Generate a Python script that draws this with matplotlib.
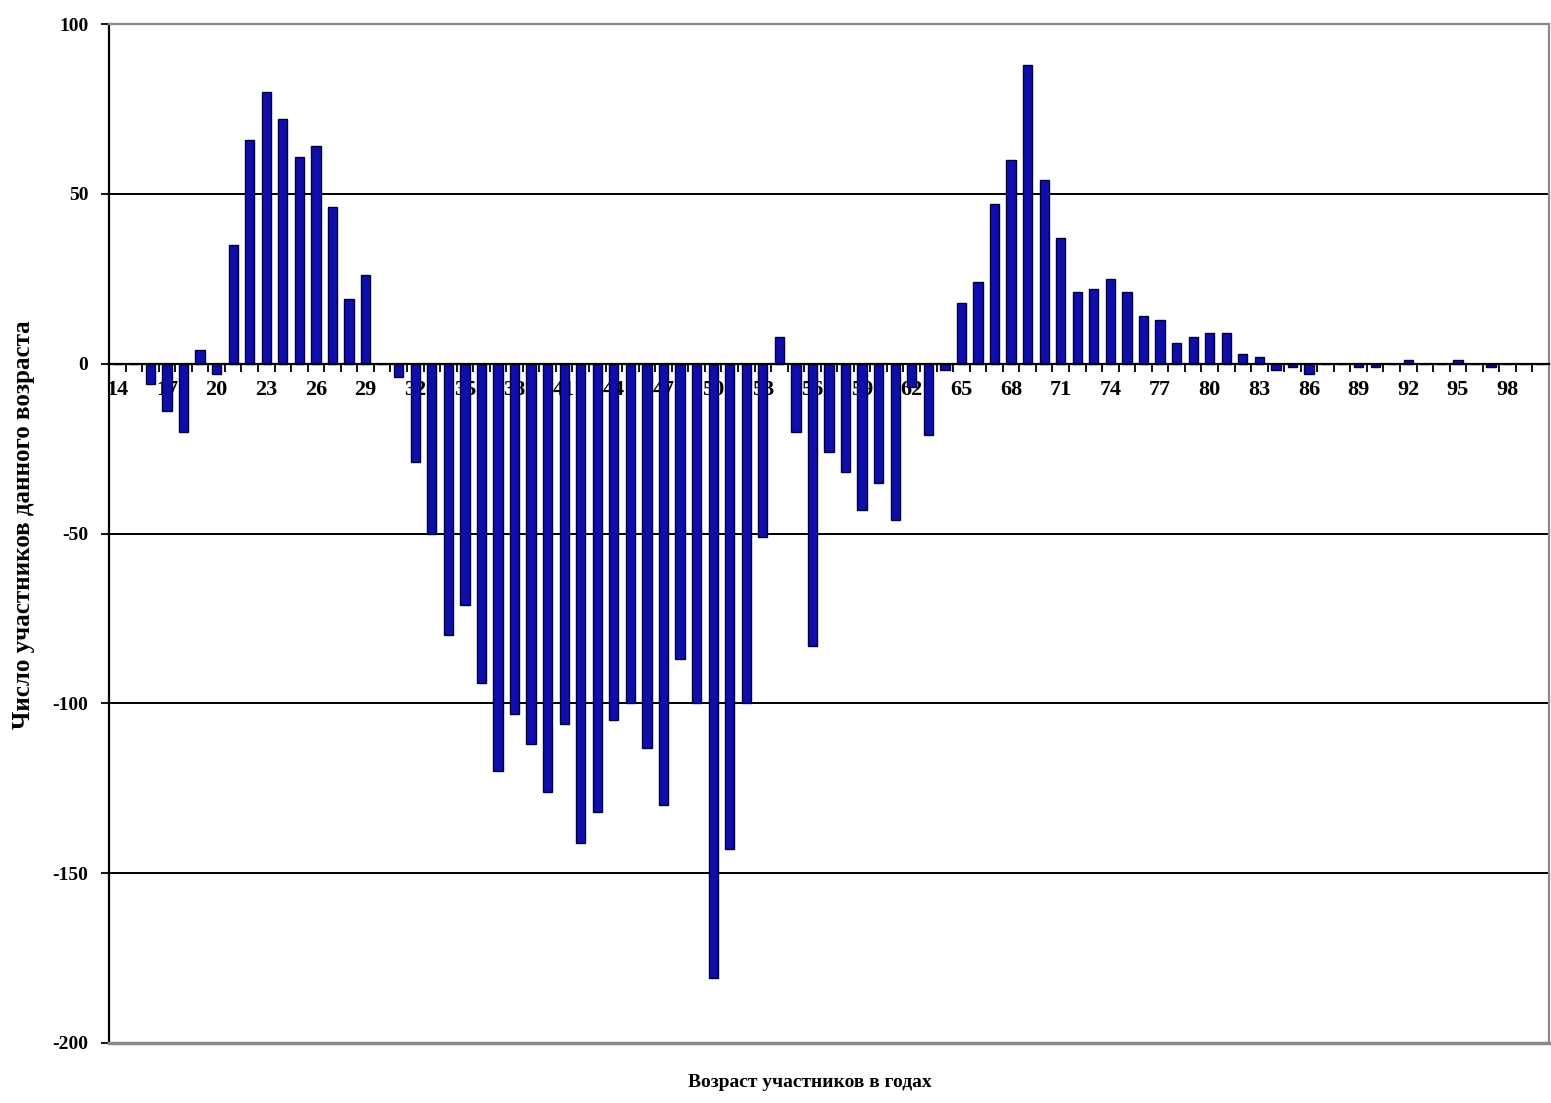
import numpy as np
import matplotlib
matplotlib.use("Agg")
import matplotlib.pyplot as plt

# возраст участников (лет) и число участников данного возраста
ages = list(range(14, 101))
counts = [0, 0, -6, -14, -20, 4, -3, 35, 66, 80,
          72, 61, 64, 46, 19, 26, 0, -4, -29, -50,
          -80, -71, -94, -120, -103, -112, -126, -106, -141, -132,
          -105, -100, -113, -130, -87, -100, -181, -143, -100, -51,
          8, -20, -83, -26, -32, -43, -35, -46, -7, -21,
          -2, 18, 24, 47, 60, 88, 54, 37, 21, 22,
          25, 21, 14, 13, 6, 8, 9, 9, 3, 2,
          -2, -1, -3, 0, 0, -1, -1, 0, 1, 0,
          0, 1, 0, -1, 0, 0, 0]
y_ticks = [100, 50, 0, -50, -100, -150, -200]
x_label = "Возраст участников в годах"
y_label = "Число участников данного возраста"

plt.rcParams['font.family'] = ['Liberation Serif', 'DejaVu Serif']
plt.rcParams['font.weight'] = 'bold'

fig = plt.figure(figsize=(15.51, 11.03), dpi=100, facecolor="w")
ax = fig.add_axes([0.0703, 0.0544, 0.9284, 0.9238])

x = np.arange(len(ages))
ax.bar(x, counts, width=0.56, color="#0e0eaa", edgecolor="#000038", linewidth=1.0, zorder=3)

# горизонтальные линии сетки
for v in y_ticks:
    if v not in (0, 100, -200):
        ax.axhline(v, color="black", linewidth=1.4, zorder=1)

ax.set_xlim(-0.5, len(ages) - 0.5)
ax.set_ylim(-200, 100)

# ось X проходит через ноль
ax.spines['bottom'].set_position(('data', 0))
ax.spines['bottom'].set_color("black")
ax.spines['bottom'].set_linewidth(1.6)
ax.spines['bottom'].set_zorder(4)
ax.spines['left'].set_color("black")
ax.spines['left'].set_linewidth(1.6)
for s in ('top', 'right'):
    ax.spines[s].set_color("#8a8a8a")
    ax.spines[s].set_linewidth(1.6)
ax.axhline(-200, color="#8a8a8a", linewidth=2.5, zorder=4, clip_on=False)

ax.set_xticks(np.arange(-0.5, len(ages), 1))
ax.set_xticklabels([])
ax.tick_params(axis='x', which='major', length=6, width=1.3, direction='out', color="black")
lab_idx = x[::3]
ax.set_xticks(lab_idx, minor=True)
ax.set_xticklabels([str(ages[i]) for i in lab_idx], minor=True, fontsize=16, fontweight='bold')
ax.tick_params(axis='x', which='minor', length=0, pad=12)

ax.set_yticks(y_ticks)
ax.set_yticklabels([str(v) for v in y_ticks], fontsize=14, fontweight='bold')
ax.tick_params(axis='y', length=6, width=1.3, direction='out', pad=9)

fig.text(0.522, 0.011, x_label, ha='center', va='bottom', fontsize=14, fontweight='bold')
fig.text(0.008, 0.524, y_label, ha='left', va='center', rotation=90, fontsize=18, fontweight='bold')

plt.savefig("out.png", dpi=100, facecolor="w")
